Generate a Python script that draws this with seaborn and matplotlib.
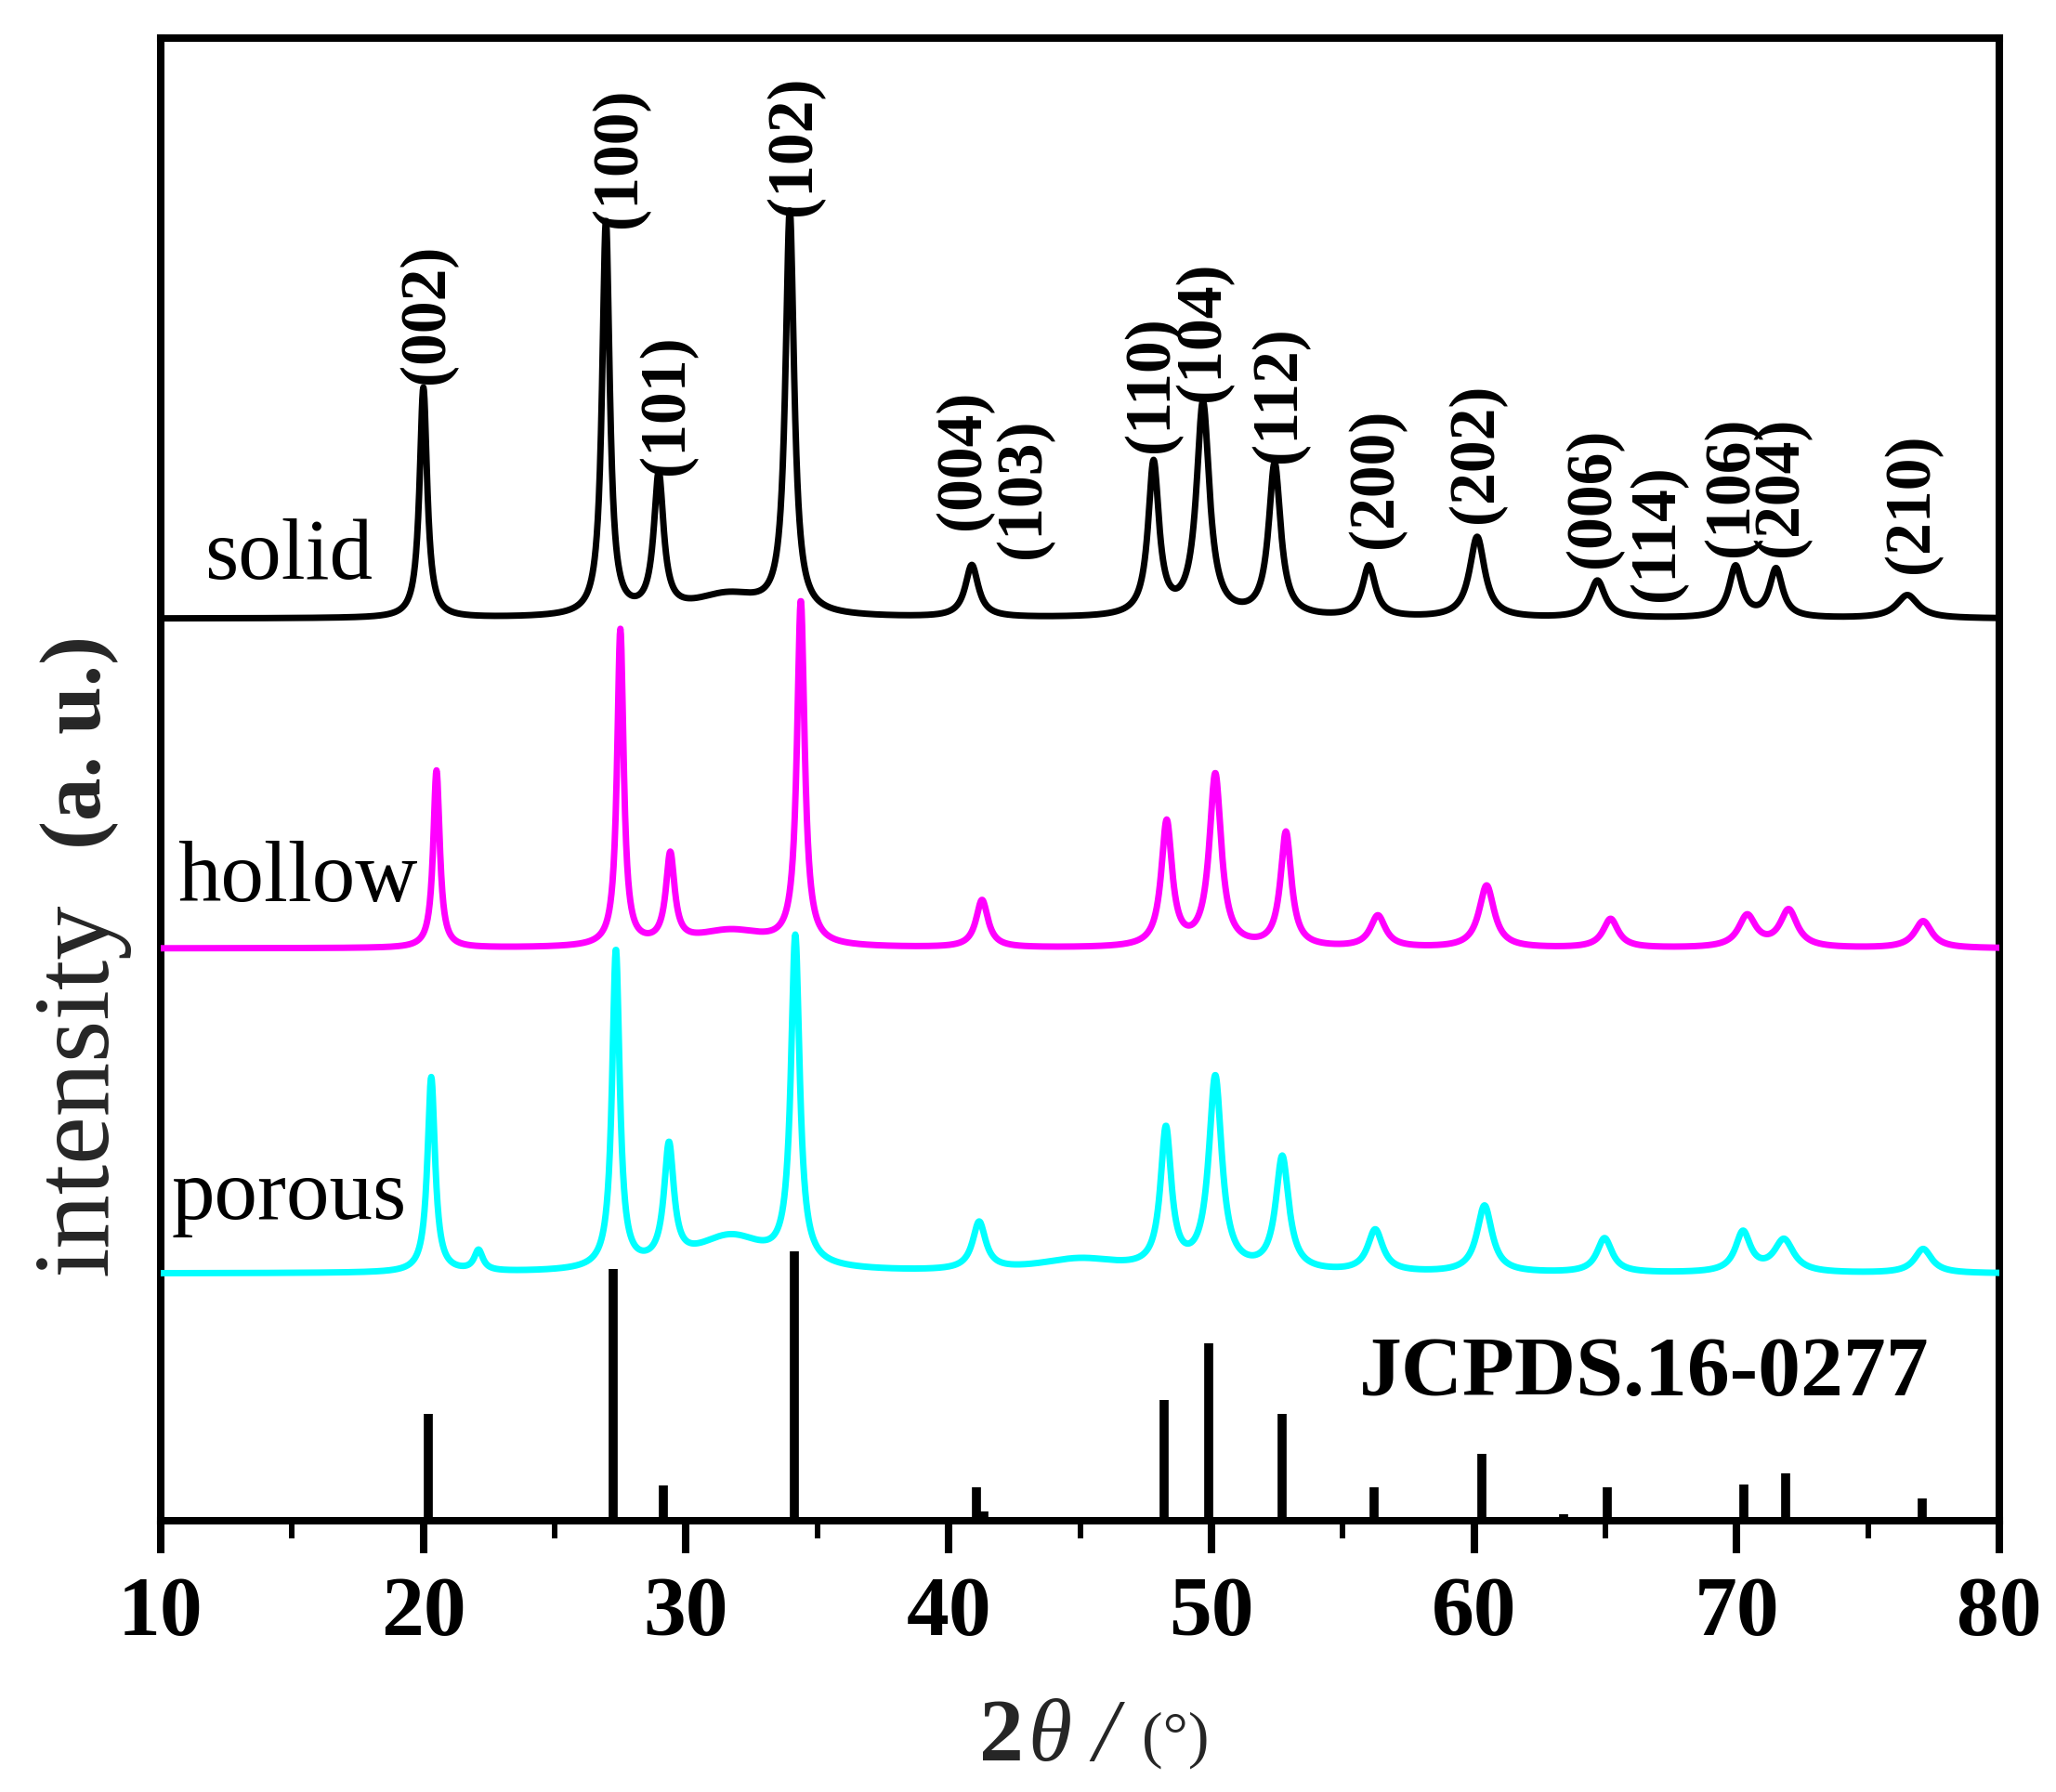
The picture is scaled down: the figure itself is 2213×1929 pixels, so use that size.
import numpy as np
import pandas as pd
import matplotlib
matplotlib.use("Agg")
import matplotlib.pyplot as plt
from matplotlib.ticker import MultipleLocator
import seaborn as sns

# ---------------- data ----------------
x_lo, x_hi = 10, 80
xtick_values = [10, 20, 30, 40, 50, 60, 70, 80]
xtick_labels = ["10", "20", "30", "40", "50", "60", "70", "80"]

# solid sample: peak positions (2theta), heights above baseline, FWHM
solid_base = 971
solid_pos = [20.0, 26.95, 28.96, 31.6, 33.95, 40.88, 47.8, 49.68, 52.41, 56.0, 60.12, 64.7, 69.96, 71.5, 76.5]
solid_h = [248, 424, 147, 24, 431, 56, 164, 229, 164, 55, 87, 40, 55, 52, 25]
solid_w = [0.35, 0.35, 0.45, 3.5, 0.4, 0.6, 0.5, 0.6, 0.55, 0.6, 0.7, 0.7, 0.6, 0.6, 1.0]

# hollow sample
hollow_base = 616
hollow_pos = [20.5, 27.5, 29.4, 31.7, 34.37, 41.27, 48.3, 50.15, 52.84, 56.34, 60.48, 65.2, 70.4, 71.98, 77.1]
hollow_h = [191, 340, 95, 18, 369, 51, 134, 185, 123, 34, 67, 31, 34, 40, 29]
hollow_w = [0.3, 0.3, 0.4, 3.5, 0.35, 0.55, 0.5, 0.55, 0.5, 0.7, 0.7, 0.7, 0.8, 0.8, 0.8]

# porous sample
porous_base = 266
porous_pos = [20.3, 22.1, 27.33, 29.35, 31.7, 34.16, 41.16, 45.0, 48.27, 50.15, 52.7, 56.24, 60.4, 64.97, 70.24, 71.8, 77.1]
porous_h = [210, 22, 342, 125, 38, 351, 51, 14, 149, 207, 122, 45, 72, 37, 43, 35, 26]
porous_w = [0.35, 0.4, 0.35, 0.45, 3.5, 0.4, 0.6, 4.0, 0.5, 0.6, 0.6, 0.7, 0.7, 0.7, 0.7, 0.9, 0.8]

# JCPDS 16-0277 reference sticks
jcpds_pos = [20.2, 27.24, 29.14, 34.13, 41.07, 41.35, 48.2, 49.9, 52.7, 56.2, 60.3, 63.4, 65.08, 70.27, 71.87, 77.07]
jcpds_int = [115, 271, 38, 290, 36, 10, 130, 191, 115, 36, 72, 7, 36, 39, 51, 24]

# Miller index labels: text, 2theta position, bottom height
hkl_text = ["(002)", "(100)", "(101)", "(102)", "(004)", "(103)", "(110)", "(104)",
            "(112)", "(200)", "(202)", "(006)", "(114)", "(106)", "(204)", "(210)"]
hkl_x = [20.15, 27.47, 29.28, 34.12, 40.56, 42.86, 47.74, 49.69,
         52.59, 56.27, 60.09, 64.55, 66.99, 69.82, 71.69, 76.68]
hkl_y = [1224, 1392, 1126, 1405, 1067, 1036, 1150, 1205,
         1139, 1047, 1074, 1026, 990, 1038, 1038, 1020]

sample_names = ["solid", "hollow", "porous"]
sample_colors = {"solid": "#000000", "hollow": "#FF00FF", "porous": "#00FFFF"}
sample_label_x = [11.66, 10.64, 10.42]
sample_label_y = [1014, 667, 325]

# ---------------- build profiles from the peak lists ----------------
grid = np.arange(x_lo, x_hi + 1e-9, 0.02)


def profile(base, pos, h, w):
    y = np.full_like(grid, float(base))
    for p, hh, ww in zip(pos, h, w):
        y += hh / (1.0 + ((grid - p) / (ww / 2.0)) ** 2)
    return y


frames = []
for name, base, pos, h, w in [
    ("solid", solid_base, solid_pos, solid_h, solid_w),
    ("hollow", hollow_base, hollow_pos, hollow_h, hollow_w),
    ("porous", porous_base, porous_pos, porous_h, porous_w),
]:
    frames.append(pd.DataFrame({"two_theta": grid, "intensity": profile(base, pos, h, w), "sample": name}))
df = pd.concat(frames, ignore_index=True)

# ---------------- figure ----------------
sns.set_theme(style="white")
plt.rcParams["font.family"] = ["Liberation Serif", "DejaVu Serif"]

W, H = 2213, 1929
fig = plt.figure(figsize=(W / 100, H / 100), dpi=100)
fig.patch.set_facecolor("white")
ax = fig.add_axes([173 / W, 1 - 1637 / H, (2152 - 173) / W, (1637 - 41) / H])
ax.set_facecolor("white")

# reference sticks
ax.vlines(jcpds_pos, 0, jcpds_int, colors="black", linewidth=7, capstyle="butt", zorder=2)

sns.lineplot(data=df, x="two_theta", y="intensity", hue="sample", palette=sample_colors,
             hue_order=sample_names, estimator=None, sort=False, linewidth=5,
             legend=False, ax=ax, zorder=3)

ax.set_xlim(x_lo, x_hi)
ax.set_ylim(0, 1596)
ax.set_xlabel("")
ax.set_ylabel("")
ax.set_yticks([])
ax.set_xticks(xtick_values, labels=xtick_labels, fontsize=66, fontweight="bold")
ax.xaxis.set_minor_locator(MultipleLocator(5))
ax.tick_params(axis="x", which="major", direction="out", length=25, width=5.8, pad=18,
               bottom=True, top=False, colors="black")
ax.tick_params(axis="x", which="minor", direction="out", length=14, width=4.3,
               bottom=True, top=False, colors="black")
for s in ax.spines.values():
    s.set_linewidth(5.8)
    s.set_color("black")
    s.set_visible(True)

# Miller indices
for t, xx, yy in zip(hkl_text, hkl_x, hkl_y):
    ax.text(xx, yy, t, rotation=90, ha="center", va="bottom", fontsize=50,
            fontweight="bold", color="black", zorder=4)

# sample names
for n, xx, yy in zip(sample_names, sample_label_x, sample_label_y):
    ax.text(xx, yy, n, ha="left", va="baseline", fontsize=67, color="black", zorder=4)

ax.text(66.49, 135, "JCPDS.16-0277", ha="center", va="baseline", fontsize=66,
        fontweight="bold", color="black", zorder=4)


# axis titles made of separate pieces (pixel positions)
def ftxt(px, py, s, **kw):
    fig.text(px / W, 1 - py / H, s, **kw)


ftxt(86, 1373, "intensity", rotation=90, ha="center", va="bottom", fontsize=84)
ftxt(86, 914, "(a. u.)", rotation=90, ha="center", va="bottom", fontsize=67, fontweight="bold")

ftxt(1054, 1895, "2", ha="left", va="baseline", fontsize=69, fontweight="bold")
ftxt(1106, 1895, "\u03b8", ha="left", va="baseline", fontsize=69, style="italic")
ftxt(1176, 1895, "/", ha="left", va="baseline", fontsize=69, style="italic")
ftxt(1229, 1890, "(\u00b0)", ha="left", va="baseline", fontsize=49)

fig.savefig("out.png", dpi=100, facecolor="white")
